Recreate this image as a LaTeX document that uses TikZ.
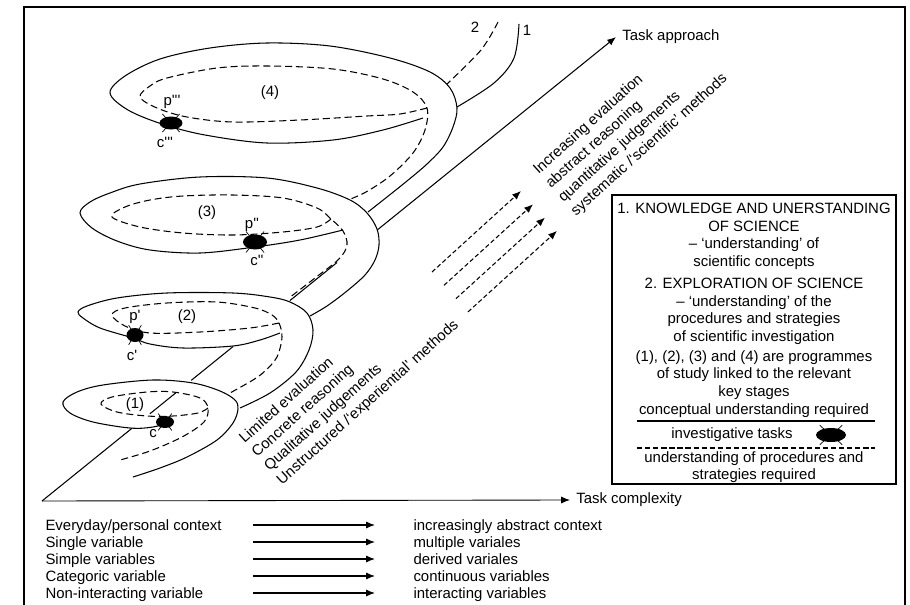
\documentclass[tikz,border=0pt]{standalone}
\usepackage{fontspec}
\setmainfont{Liberation Sans}
\usetikzlibrary{arrows.meta,positioning,calc}

\newcommand{\prm}{\textquotesingle}
% black blob with four little legs: x, y, x radius, y radius
\newcommand{\bug}[4]{%
  \fill (#1,#2) ellipse [x radius=#3, y radius=#4];
  \draw[line width=0.4pt] (#1-0.45*#3,#2-0.8*#4) -- ++(-0.3*#3,-0.6*#4);
  \draw[line width=0.4pt] (#1+0.45*#3,#2-0.8*#4) -- ++(0.3*#3,-0.6*#4);
  \draw[line width=0.4pt] (#1-0.45*#3,#2+0.8*#4) -- ++(-0.3*#3,0.6*#4);
  \draw[line width=0.4pt] (#1+0.45*#3,#2+0.8*#4) -- ++(0.3*#3,0.6*#4);
}

\begin{document}
\begin{tikzpicture}[
            x=0.02cm, y=-0.02cm,
            font=\fontsize{8.5}{10}\selectfont,
            line width=0.6pt,
            edge1/.style={line width=0.6pt},
            edge2/.style={line width=0.6pt, dash pattern=on 4pt off 2.2pt},
            arr/.style={-{Latex[length=5pt,width=4pt]}, line width=0.7pt},
            darr/.style={-{Latex[length=5pt,width=4pt]}, line width=0.6pt, dash pattern=on 2.5pt off 1.5pt},
            slant/.style={inner sep=0pt, anchor=north west, rotate=42, align=left, font=\fontsize{8.5}{10.6}\selectfont},
            row/.style={anchor=west, inner sep=0pt, text height=1.5ex, text depth=.25ex},
            boxtxt/.style={align=center, inner sep=0pt}
        ]
        \useasboundingbox (0,0) rectangle (910,605);

        \draw (24,605) -- (24,7) -- (905,7) -- (905,605);

        % axes
        \coordinate (o) at (42,501);
        \node[anchor=west] (tc) at (570,500) {Task complexity};
        \node[anchor=west] (ta) at (616,37) {Task approach};
        \draw[arr, line width=0.5pt] (o) -- (tc.west);
        \foreach \a/\b in {0/0.157, 0.188/0.233, 0.26/0.333, 0.432/0.514}
            \draw ($(o)!\a!(ta.west)$) -- ($(o)!\b!(ta.west)$);
        \draw[arr, line width=0.6pt] ($(o)!0.584!(ta.west)$) -- (ta.west);

        % loop 4
        \draw[edge1] plot[smooth, tension=0.55] coordinates {(519,24) (514,58) (494,83) (457,107)};
        \draw[edge2] plot[smooth, tension=0.55] coordinates {(498,22) (481,50) (447,84)};
        \draw[edge1] plot[smooth, tension=0.55] coordinates {(423,118) (383,130) (333,140) (267,143) (205,135) (162,124) (128,110) (110,93) (125,76) (160,59) (210,48) (267,43) (330,46) (390,58) (430,72) (450,88) (457,108) (453,127) (443,147) (427,164) (407,181) (387,197) (368,212)};
        \draw[edge2] plot[smooth, tension=0.55] coordinates {(427,108) (400,114) (367,116) (300,120) (233,122) (187,117) (157,108) (140,97) (150,86) (167,78) (217,68) (267,66) (333,69) (383,79) (413,92) (427,108) (425,130) (413,153) (390,176) (366,192) (348,200)};

        % loop 3
        \draw[edge1] plot[smooth, tension=0.55] coordinates {(343,230) (300,240) (255,247) (200,253) (150,250) (117,241) (92,228) (80,213) (90,202) (110,193) (140,184) (200,177) (267,178) (317,188) (350,200) (367,213) (377,229) (379,245) (375,260) (365,275) (347,291) (327,306) (310,316)};
        \draw[edge2] plot[smooth, tension=0.55] coordinates {(331,219) (317,227) (283,232) (233,235) (183,233) (140,227) (112,217) (125,207) (150,200) (183,196) (233,195) (283,198) (317,208) (331,219) (343,231) (347,245) (339,259) (315,278) (289,298)};

        % loop 2
        \draw[edge1] plot[smooth, tension=0.55] coordinates {(280,333) (260,340) (233,346) (183,348) (150,344) (133,338) (100,328) (83,318) (78,312) (87,306) (117,298) (167,293) (233,293) (270,297) (290,302) (307,313) (313,330) (309,350) (296,372) (270,393) (240,408)};
        \draw[edge2] plot[smooth, tension=0.55] coordinates {(279,323) (250,328) (200,332) (150,333) (125,326) (112,315) (125,308) (167,303) (217,302) (255,308) (272,315) (279,323) (282,337) (277,357) (265,371) (253,380) (230,393)};

        % loop 1
        \draw[edge1] plot[smooth, tension=0.55] coordinates {(174,421) (153,427) (130,428) (93,422) (70,413) (63,402) (77,392) (103,385) (153,380) (193,383) (220,391) (235,400) (238,409) (233,423) (217,440) (187,457) (160,468) (133,477)};
        \draw[edge2] plot[smooth, tension=0.55] coordinates {(208,408) (198,413) (173,416) (147,416) (117,412) (101,404) (112,397) (147,392) (173,392) (200,398) (208,408) (204,422) (182,437) (150,451) (120,460)};

        \node (n1) at (135,405) {(1)};
        \node (n2) at (187,317) {(2)};
        \node (n3) at (207,213) {(3)};
        \node (n4) at (270,93) {(4)};
        \node (e1) at (527,30) {1};
        \node (e2) at (475,27) {2};

        \bug{171}{123}{11.5}{6.5}
        \bug{255}{242}{12}{7.5}
        \bug{135}{335}{8.5}{7}
        \bug{165}{422}{9}{6}
        \node (p4) at (172,102) {p\prm\prm\prm};
        \node (c4) at (165,142) {c\prm\prm\prm};
        \node (p3) at (252,225) {p\prm\prm};
        \node (c3) at (257,260) {c\prm\prm};
        \node (p2) at (135,317) {p\prm};
        \node (c2) at (132,355) {c\prm};
        \node (c1) at (153,434) {c};

        % slanted texts
        \node[slant] (lo) at (236.7,435.9) {Limited evaluation\\Concrete reasoning\\Qualitative judgements\\Unstructured /`experiential' methods};
        \node[slant] (hi) at (530.7,166.9) {Increasing evaluation\\abstract reasoning\\quantitative judgements\\systematic /`scientific' methods};

        \foreach \i in {0,...,3} {
            \coordinate (ds\i) at (432+12*\i,272+13.3*\i);
            \coordinate (de\i) at (521+12*\i,191+13.3*\i);
            \draw[darr] (ds\i) -- (de\i);
        }

        % key box
        \node[draw, line width=0.8pt, minimum width=5.68cm, minimum height=5.78cm, inner sep=0pt] (key) at (754,339.5) {};
        \node[boxtxt] (k1) at (754,236.5) {1. KNOWLEDGE AND UNERSTANDING\\OF SCIENCE\\-- `understanding' of\\scientific concepts};
        \node[boxtxt] (k2) at (754,311.5) {2. EXPLORATION OF SCIENCE\\-- `understanding' of the\\procedures and strategies\\of scientific investigation};
        \node[boxtxt] (k3) at (754,375) {(1), (2), (3) and (4) are programmes\\of study linked to the relevant\\key stages};
        \node[boxtxt] (k4) at (754,411) {conceptual understanding required};
        \node[boxtxt] (k5) at (732,435) {investigative tasks};
        \node[boxtxt] (k6) at (754,467) {understanding of procedures and\\strategies required};
        \draw (637,421) -- (875,421);
        \draw[dash pattern=on 3pt off 1.6pt] (637,448) -- (875,448);
        \bug{831}{435}{15}{7}

        % legend
        \node[row] (ev) at (45,525) {Everyday/personal context};
        \node[row] (sv) at (45,542) {Single variable};
        \node[row] (sm) at (45,559) {Simple variables};
        \node[row] (ca) at (45,576) {Categoric variable};
        \node[row] (ni) at (45,593) {Non-interacting variable};
        \node[row] (ab) at (413,525) {increasingly abstract context};
        \node[row] (mu) at (413,542) {multiple variales};
        \node[row] (de) at (413,559) {derived variales};
        \node[row] (co) at (413,576) {continuous variables};
        \node[row] (in) at (413,593) {interacting variables};
        \foreach \r in {ab,mu,de,co,in}
            \draw[arr] ([xshift=-3.2cm]\r.west) -- ([xshift=-0.76cm]\r.west);

    \end{tikzpicture}
\end{document}
